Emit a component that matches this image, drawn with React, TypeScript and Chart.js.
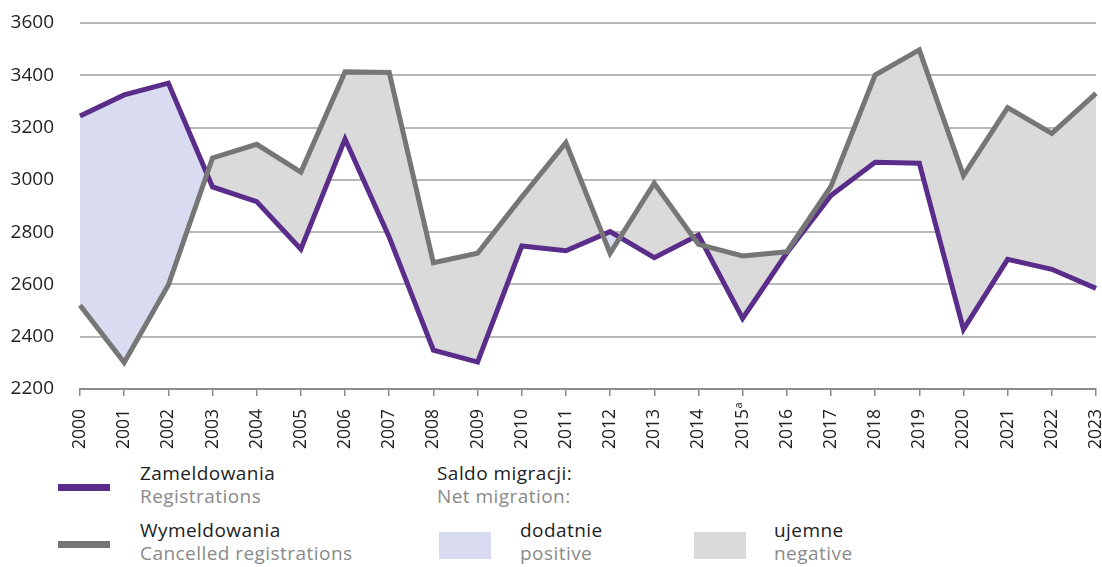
import React, { useEffect, useRef } from 'react';
import { Chart, registerables } from 'chart.js';

Chart.register(...registerables);

const years = ['2000', '2001', '2002', '2003', '2004', '2005', '2006', '2007', '2008', '2009', '2010', '2011', '2012', '2013', '2014', '2015', '2016', '2017', '2018', '2019', '2020', '2021', '2022', '2023'];
const registrations = [3244, 3325, 3370, 2973, 2917, 2735, 3156, 2781, 2349, 2303, 2747, 2729, 2802, 2702, 2789, 2470, 2720, 2940, 3067, 3064, 2428, 2696, 2658, 2585];
const cancellations = [2520, 2301, 2598, 3084, 3136, 3030, 3413, 3411, 2683, 2719, 2934, 3142, 2719, 2987, 2753, 2709, 2725, 2975, 3401, 3497, 3016, 3276, 3178, 3331];
const yMin = 2200;
const yMax = 3600;
const yStep = 200;
const noteYearIndex = 15;
const noteMark = 'a';

const PURPLE = '#5a2d8a';
const GREY = '#767676';
const LAVENDER = '#d9dbf0';
const GREYFILL = '#d9dad9';
const FONT = '"Open Sans", "Noto Sans", sans-serif';
const X_PAD = 13;
const TICK_LEN = 7;

export default function App() {
  const ref = useRef<HTMLCanvasElement>(null);

  useEffect(() => {
    document.body.style.margin = '0';
    const supPlugin = {
      id: 'supMark',
      afterDraw(chart: any) {
        const xs = chart.scales.x;
        const x = xs.getPixelForValue(noteYearIndex);
        const ctx = chart.ctx;
        ctx.save();
        ctx.translate(x, xs.top + TICK_LEN + X_PAD);
        ctx.rotate(-Math.PI / 2);
        ctx.font = '11px ' + FONT;
        ctx.fillStyle = '#222';
        ctx.textAlign = 'left';
        ctx.textBaseline = 'middle';
        ctx.fillText(noteMark, 0.5, -4);
        ctx.restore();
      },
    };
    const chart = new Chart(ref.current as HTMLCanvasElement, {
      type: 'line',
      data: {
        labels: years,
        datasets: [
          {
            label: 'Zameldowania',
            data: registrations,
            borderColor: PURPLE,
            borderWidth: 5,
            pointRadius: 0,
            tension: 0,
            borderJoinStyle: 'miter',
            fill: { target: 1, above: LAVENDER, below: GREYFILL },
            order: 1,
          },
          {
            label: 'Wymeldowania',
            data: cancellations,
            borderColor: GREY,
            borderWidth: 5,
            pointRadius: 0,
            tension: 0,
            borderJoinStyle: 'miter',
            fill: false,
            order: 0,
          },
        ],
      },
      options: {
        responsive: false,
        animation: false,
        events: [],
        layout: { padding: { top: 23, right: 6, left: 0, bottom: 0 } },
        plugins: {
          legend: { display: false },
          tooltip: { enabled: false },
        },
        scales: {
          x: {
            offset: false,
            grid: {
              drawOnChartArea: false,
              drawTicks: true,
              tickLength: TICK_LEN,
              color: '#8c8c8c',
              lineWidth: 1.5,
            },
            border: { display: true, color: '#8c8c8c', width: 2 },
            ticks: {
              autoSkip: false,
              maxRotation: 90,
              minRotation: 90,
              padding: X_PAD,
              color: '#222',
              font: { family: FONT, size: 17.5 },
            },
            afterFit(scale: any) {
              scale.height = 71;
              scale.paddingLeft = 0;
              scale.paddingRight = 0;
            },
          },
          y: {
            min: yMin,
            max: yMax,
            grid: { color: '#b8b8b8', lineWidth: 2, drawTicks: false },
            border: { display: false },
            ticks: {
              stepSize: yStep,
              padding: 26,
              color: '#222',
              font: { family: FONT, size: 19 },
              callback: (v: any) => String(v),
            },
            afterFit(scale: any) {
              scale.width = 80;
              scale.paddingTop = 0;
              scale.paddingBottom = 0;
            },
          },
        },
      },
      plugins: [supPlugin],
    });
    return () => chart.destroy();
  }, []);

  const txt: React.CSSProperties = {
    position: 'absolute',
    fontFamily: FONT,
    fontSize: 19,
    letterSpacing: '0.45px',
    lineHeight: '23.3px',
    whiteSpace: 'nowrap',
  };
  const main = { color: '#222' };
  const sub = { color: '#8a8a8a' };

  return (
    <div style={{ position: 'relative', width: 1102, height: 567, overflow: 'hidden', background: '#fff' }}>
      <canvas ref={ref} width={1102} height={460} style={{ position: 'absolute', left: 0, top: 0, width: 1102, height: 460 }} />
      <div style={{ position: 'absolute', left: 58, top: 483.5, width: 52, height: 7, background: PURPLE }} />
      <div style={{ ...txt, left: 140, top: 462 }}>
        <div style={main}>Zameldowania</div>
        <div style={sub}>Registrations</div>
      </div>
      <div style={{ position: 'absolute', left: 58, top: 541, width: 52, height: 7, background: GREY }} />
      <div style={{ ...txt, left: 140, top: 519 }}>
        <div style={main}>Wymeldowania</div>
        <div style={sub}>Cancelled registrations</div>
      </div>
      <div style={{ ...txt, left: 437, top: 462 }}>
        <div style={main}>Saldo migracji:</div>
        <div style={sub}>Net migration:</div>
      </div>
      <div style={{ position: 'absolute', left: 439, top: 532, width: 52, height: 27, background: LAVENDER }} />
      <div style={{ ...txt, left: 520, top: 519 }}>
        <div style={main}>dodatnie</div>
        <div style={sub}>positive</div>
      </div>
      <div style={{ position: 'absolute', left: 694, top: 532, width: 52, height: 27, background: GREYFILL }} />
      <div style={{ ...txt, left: 774, top: 519 }}>
        <div style={main}>ujemne</div>
        <div style={sub}>negative</div>
      </div>
    </div>
  );
}
